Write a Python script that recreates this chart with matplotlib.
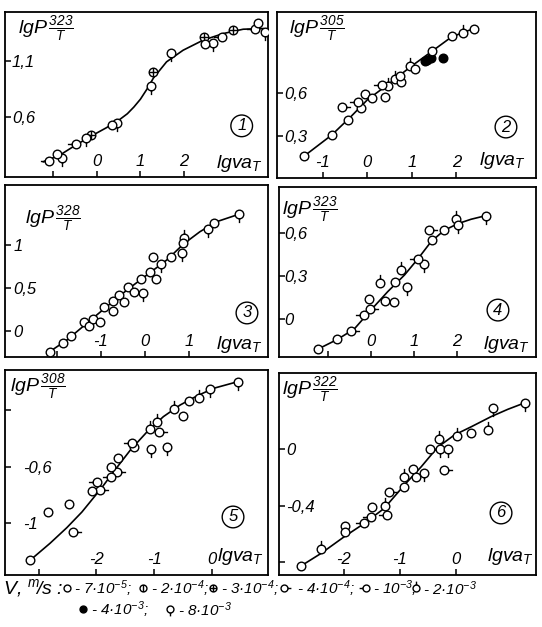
import matplotlib
matplotlib.use('Agg')
import matplotlib.pyplot as plt
from matplotlib.path import Path

plt.rcParams['font.family'] = 'Liberation Sans'
plt.rcParams['font.style'] = 'italic'
plt.rcParams['mathtext.fontset'] = 'custom'
plt.rcParams['mathtext.it'] = 'Liberation Sans:italic'
plt.rcParams['mathtext.rm'] = 'Liberation Sans'
plt.rcParams['mathtext.default'] = 'it'

# marker codes: o 7e-5, v 2e-4, x 3e-4, r 4e-4, l 1e-3, t 2e-3, f 4e-3, b 8e-3

# panel 1
p1_x = [-1.10, -0.91, -0.81, -0.48, -0.25, -0.14, 0.34, 0.47, 1.24, 1.28, 1.70, 2.46, 2.48, 2.67, 2.88, 3.13, 3.63, 3.71, 3.86]
p1_y = [0.207, 0.27, 0.23, 0.356, 0.415, 0.44, 0.53, 0.544, 0.88, 1.005, 1.17, 1.32, 1.25, 1.26, 1.32, 1.38, 1.39, 1.44, 1.36]
p1_m = ['l', 'o', 'b', 'l', 'b', 'x', 'o', 'b', 'b', 'x', 'b', 'x', 'o', 'b', 'l', 'x', 'l', 'o', 'b']
p1_cx = [-1.23, -0.85, -0.545, -0.16, 0.22, 0.53, 0.70, 0.85, 1.00, 1.15, 1.30, 1.60, 1.98, 2.44, 2.90, 3.36, 3.82]
p1_cy = [0.20, 0.26, 0.335, 0.424, 0.505, 0.58, 0.63, 0.69, 0.76, 0.85, 0.95, 1.094, 1.198, 1.288, 1.347, 1.386, 1.392]

# panel 2
p2_x = [-1.42, -0.80, -0.43, -0.58, -0.20, -0.15, -0.05, 0.10, 0.33, 0.40, 0.47, 0.62, 0.75, 0.74, 0.96, 1.07, 1.29, 1.35, 1.43, 1.45, 1.69, 1.90, 2.16, 2.39]
p2_y = [0.158, 0.306, 0.412, 0.50, 0.541, 0.494, 0.595, 0.565, 0.658, 0.576, 0.647, 0.70, 0.68, 0.72, 0.794, 0.771, 0.823, 0.835, 0.85, 0.893, 0.846, 0.999, 1.022, 1.05]
p2_m = ['o', 'o', 'o', 'r', 'l', 'o', 'o', 'o', 'l', 'o', 't', 't', 'o', 'o', 't', 'o', 'f', 'f', 'f', 'o', 'f', 'o', 't', 'o']
p2_cx = [-1.42, -0.80, -0.37, 0.00, 0.45, 0.98, 1.43, 1.88, 2.18, 2.40]
p2_cy = [0.158, 0.306, 0.435, 0.553, 0.658, 0.787, 0.889, 0.992, 1.03, 1.053]

# panel 3
p3_x = [-2.16, -1.85, -1.68, -1.38, -1.28, -1.17, -1.03, -0.93, -0.73, -0.72, -0.58, -0.47, -0.39, -0.26, -0.09, -0.04, 0.11, 0.17, 0.24, 0.36, 0.59, 0.83, 0.85, 0.87, 1.43, 1.55, 2.13]
p3_y = [-0.245, -0.147, -0.062, 0.105, 0.058, 0.137, 0.105, 0.28, 0.23, 0.347, 0.417, 0.331, 0.513, 0.455, 0.60, 0.436, 0.688, 0.864, 0.603, 0.775, 0.864, 0.903, 1.02, 1.085, 1.187, 1.253, 1.36]
p3_m = ['o', 'o', 'o', 'o', 'o', 'o', 'o', 'o', 'o', 'o', 'o', 'o', 'o', 'o', 'o', 'b', 'o', 'o', 'o', 'b', 'o', 'b', 'o', 't', 'b', 'o', 'b']
p3_cx = [-2.16, -1.77, -1.32, -0.87, -0.41, 0.04, 0.49, 0.87, 1.24, 1.62, 2.13]
p3_cy = [-0.245, -0.109, 0.086, 0.28, 0.475, 0.65, 0.825, 1.012, 1.155, 1.272, 1.36]

# panel 4
p4_x = [-1.24, -0.78, -0.47, -0.16, -0.05, -0.02, 0.21, 0.33, 0.54, 0.57, 0.70, 0.84, 1.09, 1.24, 1.36, 1.41, 1.70, 1.99, 2.02, 2.67]
p4_y = [-0.209, -0.14, -0.08, 0.03, 0.14, 0.07, 0.25, 0.128, 0.123, 0.262, 0.344, 0.223, 0.421, 0.384, 0.623, 0.553, 0.623, 0.698, 0.658, 0.723]
p4_m = ['o', 'o', 'r', 'l', 'o', 'r', 't', 'o', 'o', 'o', 't', 'b', 'l', 'b', 'r', 'o', 'o', 't', 'b', 'b']
p4_cx = [-1.24, -0.78, -0.39, 0.0, 0.39, 0.78, 1.09, 1.40, 1.70, 2.02, 2.33, 2.67]
p4_cy = [-0.209, -0.14, -0.068, 0.065, 0.193, 0.309, 0.421, 0.542, 0.62, 0.667, 0.698, 0.723]

# panel 5
p5_x = [-3.14, -2.83, -2.48, -2.40, -2.08, -1.99, -1.93, -1.74, -1.74, -1.64, -1.63, -1.38, -1.34, -1.07, -1.06, -0.95, -0.91, -0.77, -0.65, -0.50, -0.40, -0.22, -0.03, 0.45]
p5_y = [-1.258, -0.918, -0.863, -1.063, -0.771, -0.71, -0.764, -0.675, -0.60, -0.635, -0.537, -0.43, -0.463, -0.336, -0.477, -0.282, -0.353, -0.463, -0.193, -0.242, -0.134, -0.113, -0.054, 0.0]
p5_m = ['o', 'o', 'o', 'r', 'o', 'l', 'r', 'l', 'o', 'r', 'o', 'l', 'o', 't', 'b', 't', 'r', 'b', 't', 'o', 'o', 't', 'b', 'b']
p5_cx = [-3.14, -2.80, -2.51, -2.25, -2.05, -1.90, -1.70, -1.41, -1.12, -0.84, -0.55, -0.26, 0.03, 0.45]
p5_cy = [-1.258, -1.14, -1.03, -0.92, -0.82, -0.745, -0.635, -0.482, -0.353, -0.247, -0.165, -0.101, -0.047, 0.0]

# panel 6
p6_x = [-2.75, -2.40, -1.98, -1.98, -1.63, -1.52, -1.50, -1.26, -1.23, -1.20, -0.93, -0.92, -0.77, -0.71, -0.58, -0.46, -0.30, -0.28, -0.22, -0.15, 0.02, 0.27, 0.57, 0.65, 1.23]
p6_y = [-0.823, -0.708, -0.541, -0.588, -0.524, -0.482, -0.407, -0.402, -0.466, -0.301, -0.27, -0.195, -0.143, -0.195, -0.172, -0.002, 0.073, -0.002, -0.148, -0.002, 0.092, 0.115, 0.134, 0.287, 0.327]
p6_m = ['o', 't', 'o', 'o', 'l', 'l', 'o', 't', 'l', 'r', 'o', 't', 'o', 'o', 'b', 'o', 't', 'b', 'r', 'b', 't', 'o', 't', 'b', 'b']
p6_cx = [-2.75, -2.40, -1.99, -1.63, -1.28, -0.92, -0.62, -0.33, -0.03, 0.27, 0.62, 0.92, 1.23]
p6_cy = [-0.823, -0.736, -0.619, -0.524, -0.419, -0.254, -0.125, 0.012, 0.099, 0.157, 0.228, 0.28, 0.327]

# legend entries
leg_codes = ['o', 'v', 'x', 'r', 'l', 't', 'f', 'b']
leg_texts = ['- 7·10$^{-5}$;', '- 2·10$^{-4}$;', '- 3·10$^{-4}$;', '- 4·10$^{-4}$;',
             '- 10$^{-3}$;', '- 2·10$^{-3}$', '- 4·10$^{-3}$;', '- 8·10$^{-3}$']

MS = 6.2
STEM = 2.0


def marker_for(code):
    circ = Path.unit_circle()
    segs = {'v': [[(0, -1), (0, 1)]],
            'x': [[(0, -1), (0, 1)], [(-1, 0), (1, 0)]],
            'r': [[(1, 0), (STEM, 0)]],
            'l': [[(-1, 0), (-STEM, 0)]],
            't': [[(0, 1), (0, STEM)]],
            'b': [[(0, -1), (0, -STEM)]]}
    if code not in segs:
        return 'o', 1.0
    parts = [circ] + [Path(s, [Path.MOVETO, Path.LINETO]) for s in segs[code]]
    scale = STEM if code in 'rltb' else 1.0
    return Path.make_compound_path(*parts), scale


def draw_marks(ax, xs, ys, codes, size=MS):
    for code in set(codes):
        px = [x for x, c in zip(xs, codes) if c == code]
        py = [y for y, c in zip(ys, codes) if c == code]
        mk, sc = marker_for(code)
        ax.plot(px, py, ls='none', marker=mk, ms=size * sc, mec='black',
                mfc='black' if code == 'f' else 'white', mew=1.0, zorder=3)


fig = plt.figure(figsize=(5.42, 6.27), dpi=100)
bg = fig.add_axes([0, 0, 1, 1])
bg.set_xlim(0, 542)
bg.set_ylim(627, 0)
bg.axis('off')

panels = [
    dict(pos=[5, 12, 268, 177], x=p1_x, y=p1_y, m=p1_m, cx=p1_cx, cy=p1_cy,
         xlim=(-2.11, 3.93), ylim=(0.064, 1.54),
         xt=[-1, 0, 1, 2], xtl=['', '0', '1', '2'], yt=[0.6, 1.1], ytl=['0,6', '1,1'], ypad=-5,
         lab='323', lab_off=(13, -2), va_off=(-5, 3), num='1', num_pos=(0.90, 0.31)),
    dict(pos=[277, 12, 536, 178], x=p2_x, y=p2_y, m=p2_m, cx=p2_cx, cy=p2_cy,
         xlim=(-2.03, 3.79), ylim=(0.004, 1.17),
         xt=[-1, 0, 1, 2], xtl=['-1', '0', '1', '2'], yt=[0.3, 0.6], ytl=['0,3', '0,6'], ypad=-5,
         lab='305', lab_off=(12, -2), va_off=(-10, 7), num='2', num_pos=(0.884, 0.307)),
    dict(pos=[5, 185, 268, 357], x=p3_x, y=p3_y, m=p3_m, cx=p3_cx, cy=p3_cy,
         xlim=(-3.17, 2.78), ylim=(-0.307, 1.70),
         xt=[-2, -1, 0, 1], xtl=['', '-1', '0', '1'], yt=[0, 0.5, 1], ytl=['0', '0,5', '1'], ypad=-6,
         lab='328', lab_off=(20, -19), va_off=(-5, 2), num='3', num_pos=(0.92, 0.256)),
    dict(pos=[279, 187, 536, 357], x=p4_x, y=p4_y, m=p4_m, cx=p4_cx, cy=p4_cy,
         xlim=(-2.14, 3.84), ylim=(-0.263, 0.923),
         xt=[-1, 0, 1, 2], xtl=['', '0', '1', '2'], yt=[0, 0.3, 0.6], ytl=['0', '0,3', '0,6'], ypad=-4,
         lab='323', lab_off=(3, -8), va_off=(-6, 2), num='4', num_pos=(0.852, 0.276)),
    dict(pos=[5, 370, 268, 575], x=p5_x, y=p5_y, m=p5_m, cx=p5_cx, cy=p5_cy,
         xlim=(-3.58, 0.97), ylim=(-1.364, 0.082),
         xt=[-3, -2, -1, 0], xtl=['', '-2', '-1', '0'], yt=[-1, -0.6, -0.2], ytl=['-1', '-0,6', ''], ypad=-13,
         lab='308', lab_off=(5, -2), va_off=(-4, 8), num='5', num_pos=(0.867, 0.283)),
    dict(pos=[279, 373, 536, 575], x=p6_x, y=p6_y, m=p6_m, cx=p6_cx, cy=p6_cy,
         xlim=(-3.15, 1.42), ylim=(-0.889, 0.536),
         xt=[-2, -1, 0], xtl=['-2', '-1', '0'], yt=[-0.8, -0.4, 0], ytl=['', '-0,4', '0'], ypad=-5,
         lab='322', lab_off=(3, -2), va_off=(-2, 8), num='6', num_pos=(0.864, 0.307)),
]

W, H = 542.0, 627.0
for p in panels:
    l, t, r, b = p['pos']
    ax = fig.add_axes([l / W, 1 - b / H, (r - l) / W, (b - t) / H])
    ax.plot(p['cx'], p['cy'], color='black', lw=1.2, zorder=2)
    draw_marks(ax, p['x'], p['y'], p['m'])
    ax.set_xlim(*p['xlim'])
    ax.set_ylim(*p['ylim'])
    ax.set_xticks(p['xt'], p['xtl'], va='bottom')
    ax.set_yticks(p['yt'], p['ytl'], ha='left')
    ax.tick_params(direction='in', length=4, width=1.1, labelsize=12)
    ax.tick_params(axis='x', pad=-6)
    ax.tick_params(axis='y', pad=p['ypad'])
    for s in ax.spines.values():
        s.set_linewidth(1.3)
    ax.annotate(r'$lgP\,\frac{%s}{T}$' % p['lab'], xy=(0, 1), xycoords='axes fraction',
                xytext=p['lab_off'], textcoords='offset pixels', ha='left', va='top', fontsize=14)
    ax.annotate(r'$lgva_T$', xy=(1, 0), xycoords='axes fraction',
                xytext=p['va_off'], textcoords='offset pixels', ha='right', va='bottom', fontsize=14)
    ax.text(p['num_pos'][0], p['num_pos'][1], p['num'], transform=ax.transAxes, ha='center', va='center',
            fontsize=12, bbox=dict(boxstyle='circle,pad=0.2', fc='white', ec='black', lw=1.0))

# legend under the panels
bg.text(3, 588, r'V, $^{m}\!/s$ :', ha='left', va='center', fontsize=14)
leg_pos = [(67, 588), (143, 588), (213, 588), (284, 588), (366, 588), (416, 588), (83, 609), (170, 609)]
txt_x = [74, 151, 221, 297, 373, 423, 91, 178]
for code, (lx, ly), tx, txt in zip(leg_codes, leg_pos, txt_x, leg_texts):
    mk, sc = marker_for(code)
    bg.plot([lx], [ly], ls='none', marker=mk, ms=MS * sc * 0.8, mec='black',
            mfc='black' if code == 'f' else 'white', mew=1.0)
    bg.text(tx, ly + 1, txt, ha='left', va='center', fontsize=11)

fig.savefig('out.png', dpi=100)
